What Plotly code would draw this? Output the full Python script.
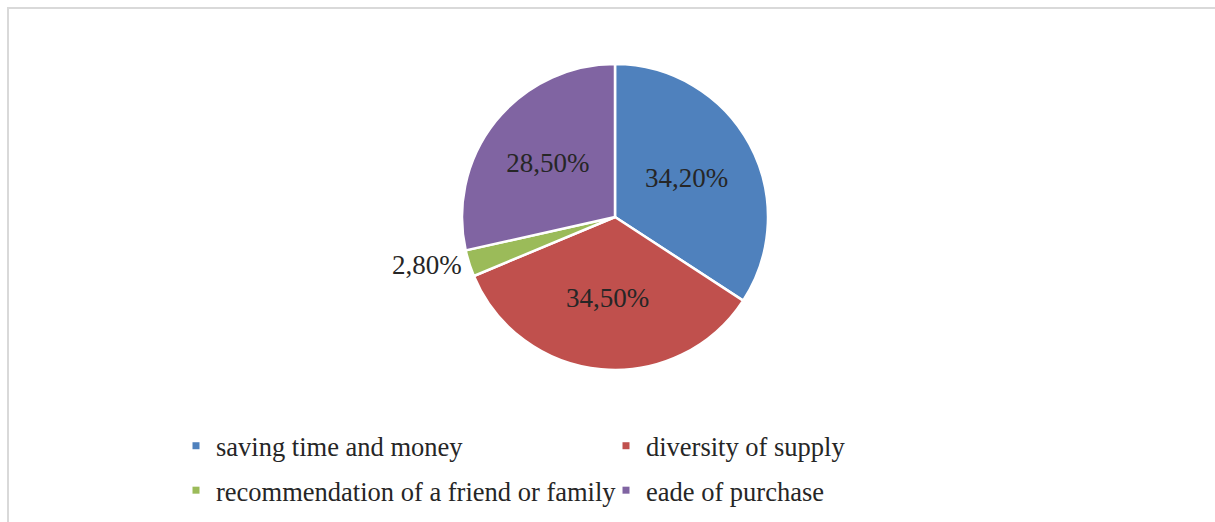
import plotly.graph_objects as go

categories = ["saving time and money", "diversity of supply",
              "recommendation of a friend or family", "eade of purchase"]
values = [34.2, 34.5, 2.8, 28.5]
labels_text = ["34,20%", "34,50%", "2,80%", "28,50%"]
colors = ["#4F81BD", "#C0504D", "#9BBB59", "#8064A2"]
legend_column = ["legend", "legend2", "legend", "legend2"]

FONT = "Liberation Serif, Times New Roman, serif"
TXT = "#262626"
W, H = 1215, 522

fig = go.Figure()
fig.add_trace(go.Pie(
    labels=categories, values=values, text=labels_text,
    textinfo="text", textposition=["inside", "inside", "outside", "inside"],
    insidetextorientation="horizontal",
    sort=False, direction="clockwise", rotation=0,
    marker=dict(colors=colors, line=dict(color="white", width=2.5)),
    textfont=dict(family=FONT, size=27, color=TXT),
    domain=dict(x=[462/W, 768/W], y=[1-370/H, 1-64/H]),
    showlegend=False, hoverinfo="label+percent",
))
for c, col, lg in zip(categories, colors, legend_column):
    fig.add_trace(go.Scatter(x=[None], y=[None], mode="markers", name=c,
                             legend=lg, legendgroup=c,
                             marker=dict(symbol="square", size=7, color=col)))

leg_common = dict(orientation="v", xanchor="left", yanchor="top",
                  font=dict(family=FONT, size=26.5, color=TXT),
                  tracegroupgap=7, bgcolor="rgba(0,0,0,0)")
fig.update_layout(
    width=W, height=H,
    margin=dict(l=0, r=0, t=0, b=0),
    paper_bgcolor="white", plot_bgcolor="white",
    xaxis=dict(visible=False), yaxis=dict(visible=False),
    font=dict(family=FONT, color=TXT),
    uniformtext=dict(minsize=27, mode="show"),
    legend=dict(x=176/W, y=1-422/H, **leg_common),
    legend2=dict(x=606/W, y=1-422/H, **leg_common),
    shapes=[dict(type="rect", xref="paper", yref="paper",
                 x0=8/W, x1=1.05, y0=-0.1, y1=1-8/H,
                 line=dict(color="#d9d9d9", width=2), layer="below")],
)
fig.write_html("out.html", config={"displayModeBar": False},
               post_script="document.body.style.margin='0';")
